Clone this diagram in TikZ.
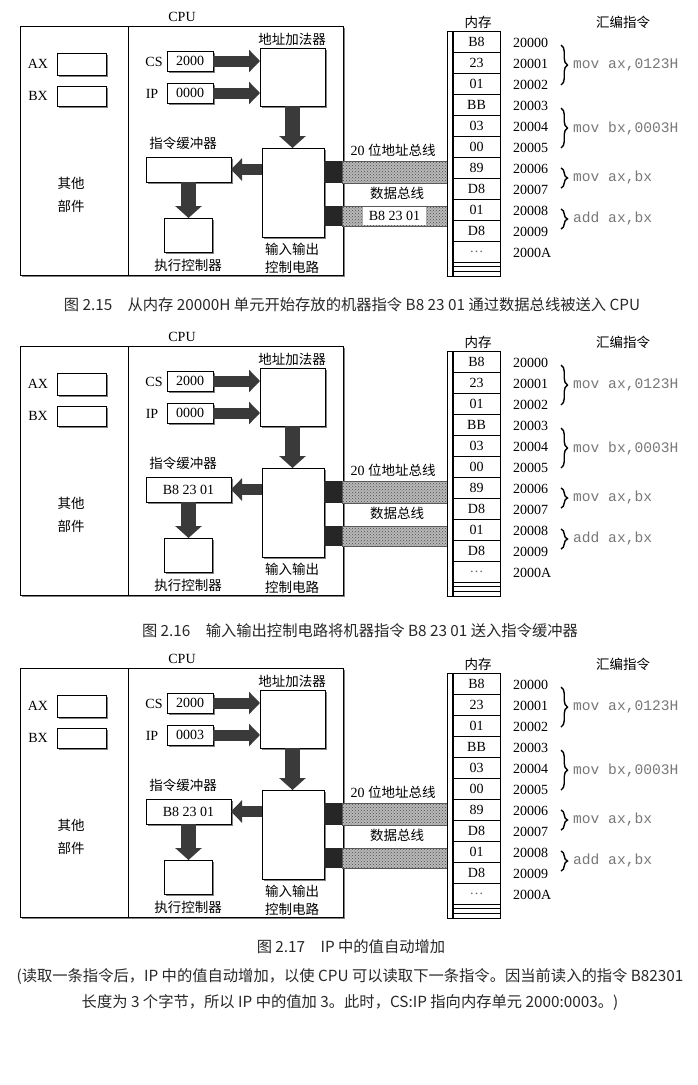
\documentclass[tikz,border=0pt]{standalone}
\usepackage{fontspec}
\setmainfont{Liberation Serif}
\newfontfamily\cjk{Noto Sans CJK SC}
\newfontfamily\monof{Liberation Mono}
\usetikzlibrary{arrows.meta,patterns,shadows,decorations.pathreplacing}

\definecolor{arrowgray}{RGB}{58,58,58}
\definecolor{asmgray}{RGB}{120,120,120}
\definecolor{capgray}{RGB}{40,40,40}

\tikzset{
  box/.style={draw=black, line width=0.7pt, fill=white, inner sep=0pt, outer sep=0pt, anchor=north west,
    drop shadow={shadow xshift=1.8pt, shadow yshift=-1.8pt, fill=black!50, opacity=1}},
  lbl/.style={inner sep=0pt, font=\fontsize{14}{14}\selectfont},
  cj/.style={inner sep=0pt, font=\cjk\fontsize{13.5}{14}\selectfont},
  asm/.style={inner sep=0pt, anchor=west, text=asmgray, font=\monof\fontsize{14.6}{14}\selectfont},
  captext/.style={inner sep=0pt, text=capgray, font=\cjk\fontsize{15.3}{15}\selectfont},
  fatarrow/.style={draw=arrowgray, line width=11pt, -{Triangle[width=22pt,length=11pt]}},
  fatarrowv/.style={draw=arrowgray, line width=15pt, -{Triangle[width=26pt,length=12pt]}},
  busblock/.style={fill=black!85, inner sep=0pt, outer sep=0pt, anchor=north west, minimum width=19pt},
  band/.style={draw=black!65, line width=0.6pt, preaction={fill=black!28}, pattern=crosshatch dots,
    pattern color=black!70, inner sep=0pt, outer sep=0pt, anchor=north west, minimum width=105pt},
  cell/.style={draw=black, line width=0.5pt, inner sep=0pt, outer sep=0pt, anchor=north west,
    minimum width=47pt, minimum height=21pt, font=\fontsize{14}{14}\selectfont},
  bracestyle/.style={decorate, decoration={brace, amplitude=6.5pt}, line width=1.4pt}
}

\newcommand\drawpanel[5]{%
\begin{scope}[yshift=-#1pt, name prefix=#2]
  % CPU frame
  \node[box, minimum width=323pt, minimum height=249pt] (cpu) at (20,26) {};
  \draw[line width=0.7pt] (128,26) -- (128,275);
  \node[lbl] (cpul) at (182,17) {CPU};
  % general registers
  \node[lbl] (axl) at (38,64) {AX};
  \node[box, minimum width=49pt, minimum height=22pt] (ax) at (57,53) {};
  \node[lbl] (bxl) at (38,96) {BX};
  \node[box, minimum width=49pt, minimum height=20pt] (bx) at (57,86) {};
  \node[cj] (oth1) at (71,183) {其他};
  \node[cj] (oth2) at (71,206) {部件};
  % CS / IP
  \node[lbl] (csl) at (154,62) {CS};
  \node[box, minimum width=46pt, minimum height=20pt] (cs) at (167,51) {};
  \node[lbl] (csv) at (cs.center) {2000};
  \node[lbl] (ipl) at (152,94) {IP};
  \node[box, minimum width=46pt, minimum height=20pt] (ip) at (167,83) {};
  \node[lbl] (ipv) at (ip.center) {#3};
  % adder
  \node[cj] (addl) at (292,39) {地址加法器};
  \node[box, minimum width=65pt, minimum height=58pt] (add) at (260,48) {};
  % I/O control
  \node[box, minimum width=62pt, minimum height=89pt] (io) at (262,148) {};
  \node[cj] (io1) at (292,249) {输入输出};
  \node[cj] (io2) at (292,267) {控制电路};
  % buffer
  \node[cj] (bufl) at (183,143) {指令缓冲器};
  \node[box, minimum width=85pt, minimum height=25pt] (buf) at (146,157) {};
  \node[lbl] (bufv) at (buf.center) {#4};
  % exec
  \node[box, minimum width=48pt, minimum height=34pt] (exec) at (164,218) {};
  \node[cj] (execl) at (188,265) {执行控制器};
  % fat arrows
  \draw[fatarrow] (cs.east) -- (cs.east -| add.west);
  \draw[fatarrow] (ip.east) -- (ip.east -| add.west);
  \draw[fatarrowv] (add.south) -- (add.south |- io.north);
  \draw[fatarrow] (io.west |- buf.east) -- (buf.east);
  \draw[fatarrowv] (buf.south) -- (buf.south |- exec.north);
  % buses
  \node[busblock, minimum height=22pt] (ab) at (324,161) {};
  \node[busblock, minimum height=20pt] (db) at (324,206) {};
  \node[band, minimum height=22pt] (abus) at (342,161) {};
  \node[band, minimum height=20pt] (dbus) at (342,206) {};
  \node[lbl] (abl) at (393,150) {20 {\cjk\fontsize{13.5}{14}\selectfont 位地址总线}};
  \node[cj] (dbl) at (397,193) {数据总线};
  \ifnum#5=1
    \node[lbl, fill=white, minimum width=63pt, minimum height=18pt] (dbv) at (dbus.center) {B8 23 01};
  \fi
  % memory
  \node[cj] (meml) at (478,22) {内存};
  \node[cj] (asml) at (623,22) {汇编指令};
  \node[draw=black, line width=0.6pt, inner sep=0pt, outer sep=0pt, anchor=north west,
        minimum width=53pt, minimum height=245pt] (mem) at (447,31) {};
  \foreach \v [count=\i from 0] in {B8,23,01,BB,03,00,89,D8,01,D8,{\textcolor{black!60}{\dots}}}
    \node[cell] (c\i) at (453,{31+21*\i}) {\v};
  \draw[line width=0.5pt] (453,266.7) -- (500,266.7);
  \draw[line width=0.5pt] (453,271.3) -- (500,271.3);
  \draw[line width=2.4pt] (453,31) -- (453,276);
  \foreach \a [count=\i from 0] in {20000,20001,20002,20003,20004,20005,20006,20007,20008,20009,2000A}
    \node[lbl, anchor=west] (a\i) at (513,{42.5+21*\i}) {\a};
  % braces and instructions
  \draw[bracestyle] (561,45) -- (561,85);
  \draw[bracestyle] (561,108) -- (561,148);
  \draw[bracestyle] (561,168) -- (561,188);
  \draw[bracestyle] (561,209) -- (561,229);
  \node[asm] (m1) at (573,65) {mov ax,0123H};
  \node[asm] (m2) at (573,128) {mov bx,0003H};
  \node[asm] (m3) at (573,177) {mov ax,bx};
  \node[asm] (m4) at (573,218) {add ax,bx};
\end{scope}}

\begin{document}
\begin{tikzpicture}[x=1pt,y=-1pt]
  \fill[white] (0,0) rectangle (697,1085);
  \useasboundingbox (0,0) rectangle (697,1085);
  \drawpanel{0}{p1-}{0000}{}{1}
  \node[captext] (cap1) at (352,305) {图 2.15\quad 从内存 20000H 单元开始存放的机器指令 B8 23 01 通过数据总线被送入 CPU};
  \drawpanel{320}{p2-}{0000}{B8 23 01}{0}
  \node[captext] (cap2) at (360,631) {图 2.16\quad 输入输出控制电路将机器指令 B8 23 01 送入指令缓冲器};
  \drawpanel{642}{p3-}{0003}{B8 23 01}{0}
  \node[captext] (cap3) at (351,947) {图 2.17\quad IP 中的值自动增加};
  \node[captext] (cap4) at (350,977) {(读取一条指令后，IP 中的值自动增加，以使 CPU 可以读取下一条指令。因当前读入的指令 B82301};
  \node[captext] (cap5) at (350,1003) {长度为 3 个字节，所以 IP 中的值加 3。此时，CS:IP 指向内存单元 2000:0003。)};
\end{tikzpicture}
\end{document}
